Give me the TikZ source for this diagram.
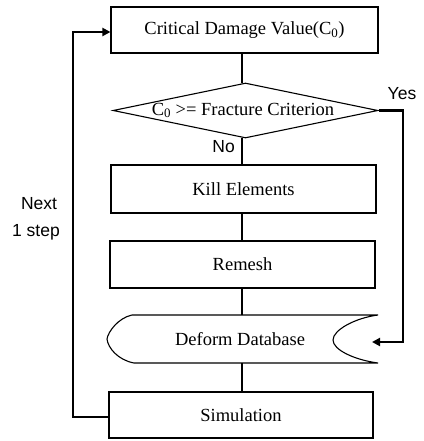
\documentclass[tikz,border=0pt]{standalone}
\usepackage{fontspec}
\setmainfont{Liberation Serif}
\newfontfamily\labfont{Liberation Sans}
\usetikzlibrary{shapes.geometric,arrows.meta}
\begin{document}
\begin{tikzpicture}[x=1pt,y=-1pt,
  boxstyle/.style={draw=black, line width=1.1pt, rectangle, inner sep=0pt},
  txt/.style={font=\fontsize{18.5}{21}\selectfont, inner sep=0pt},
  lab/.style={font=\labfont\fontsize{17.5}{20}\selectfont, inner sep=0pt},
  conn/.style={line width=2.6pt, black},
  arr/.style={conn, -{Triangle[length=8pt,width=8pt]}}]
\fill[white] (0,0) rectangle (423,441);
\useasboundingbox (0,0) rectangle (423,441);
% boxes
\node[boxstyle, minimum width=267pt, minimum height=46pt] (crit) at (244.5,30) {};
\node[txt] at (crit) {Critical Damage Value(C\textsubscript{0})};
\node[diamond, draw=black, line width=1.1pt, inner sep=0pt, minimum width=265pt, minimum height=55pt] (dec) at (245.5,110.5) {};
\node[txt] at (243,110.5) {C\textsubscript{0} >= Fracture Criterion};
\node[boxstyle, minimum width=265pt, minimum height=48pt] (kill) at (243.5,189) {};
\node[txt] at (kill) {Kill Elements};
\node[boxstyle, minimum width=265pt, minimum height=47pt] (rem) at (242.5,264.5) {};
\node[txt] at (rem) {Remesh};
% deform database shape
\coordinate (dbtop) at (242,315);
\coordinate (dbbot) at (242,363);
\draw[draw=black, line width=1.1pt]
  (378,315) -- (132,315)
  .. controls (118,318) and (108,332) .. (107,339)
  .. controls (108,348) and (118,360) .. (134,363) -- (378,363)
  .. controls (355,360) and (333,350) .. (333,340)
  .. controls (333,330) and (355,318) .. (378,315);
\node[txt] (db) at (240,339) {Deform Database};
\node[boxstyle, minimum width=264pt, minimum height=46pt] (sim) at (241,415) {};
\node[txt] at (sim) {Simulation};
% connectors
\draw[conn] (crit.south -| 242,0) -- (242,83);
\draw[conn] (242,138) -- (kill.north -| 242,0);
\draw[conn] (kill.south -| 242,0) -- (rem.north -| 242,0);
\draw[conn] (rem.south -| 242,0) -- (dbtop);
\draw[conn] (dbbot) -- (sim.north -| 242,0);
% yes loop
\coordinate (yr) at (403,110.5);
\coordinate (yb) at (403,342);
\draw[arr] (dec.east) -- (yr) -- (yb) -- (372,342);
% left loop
\coordinate (lb) at (73,417);
\coordinate (lt) at (73,32);
\draw[arr] (sim.west |- lb) -- (lb) -- (lt) -- (crit.west |- lt);
% labels
\node[lab] at (402,94) {Yes};
\node[lab, anchor=east] at (235,147) {No};
\node[lab] at (39,204) {Next};
\node[lab] at (36,232) {1 step};
\end{tikzpicture}
\end{document}
